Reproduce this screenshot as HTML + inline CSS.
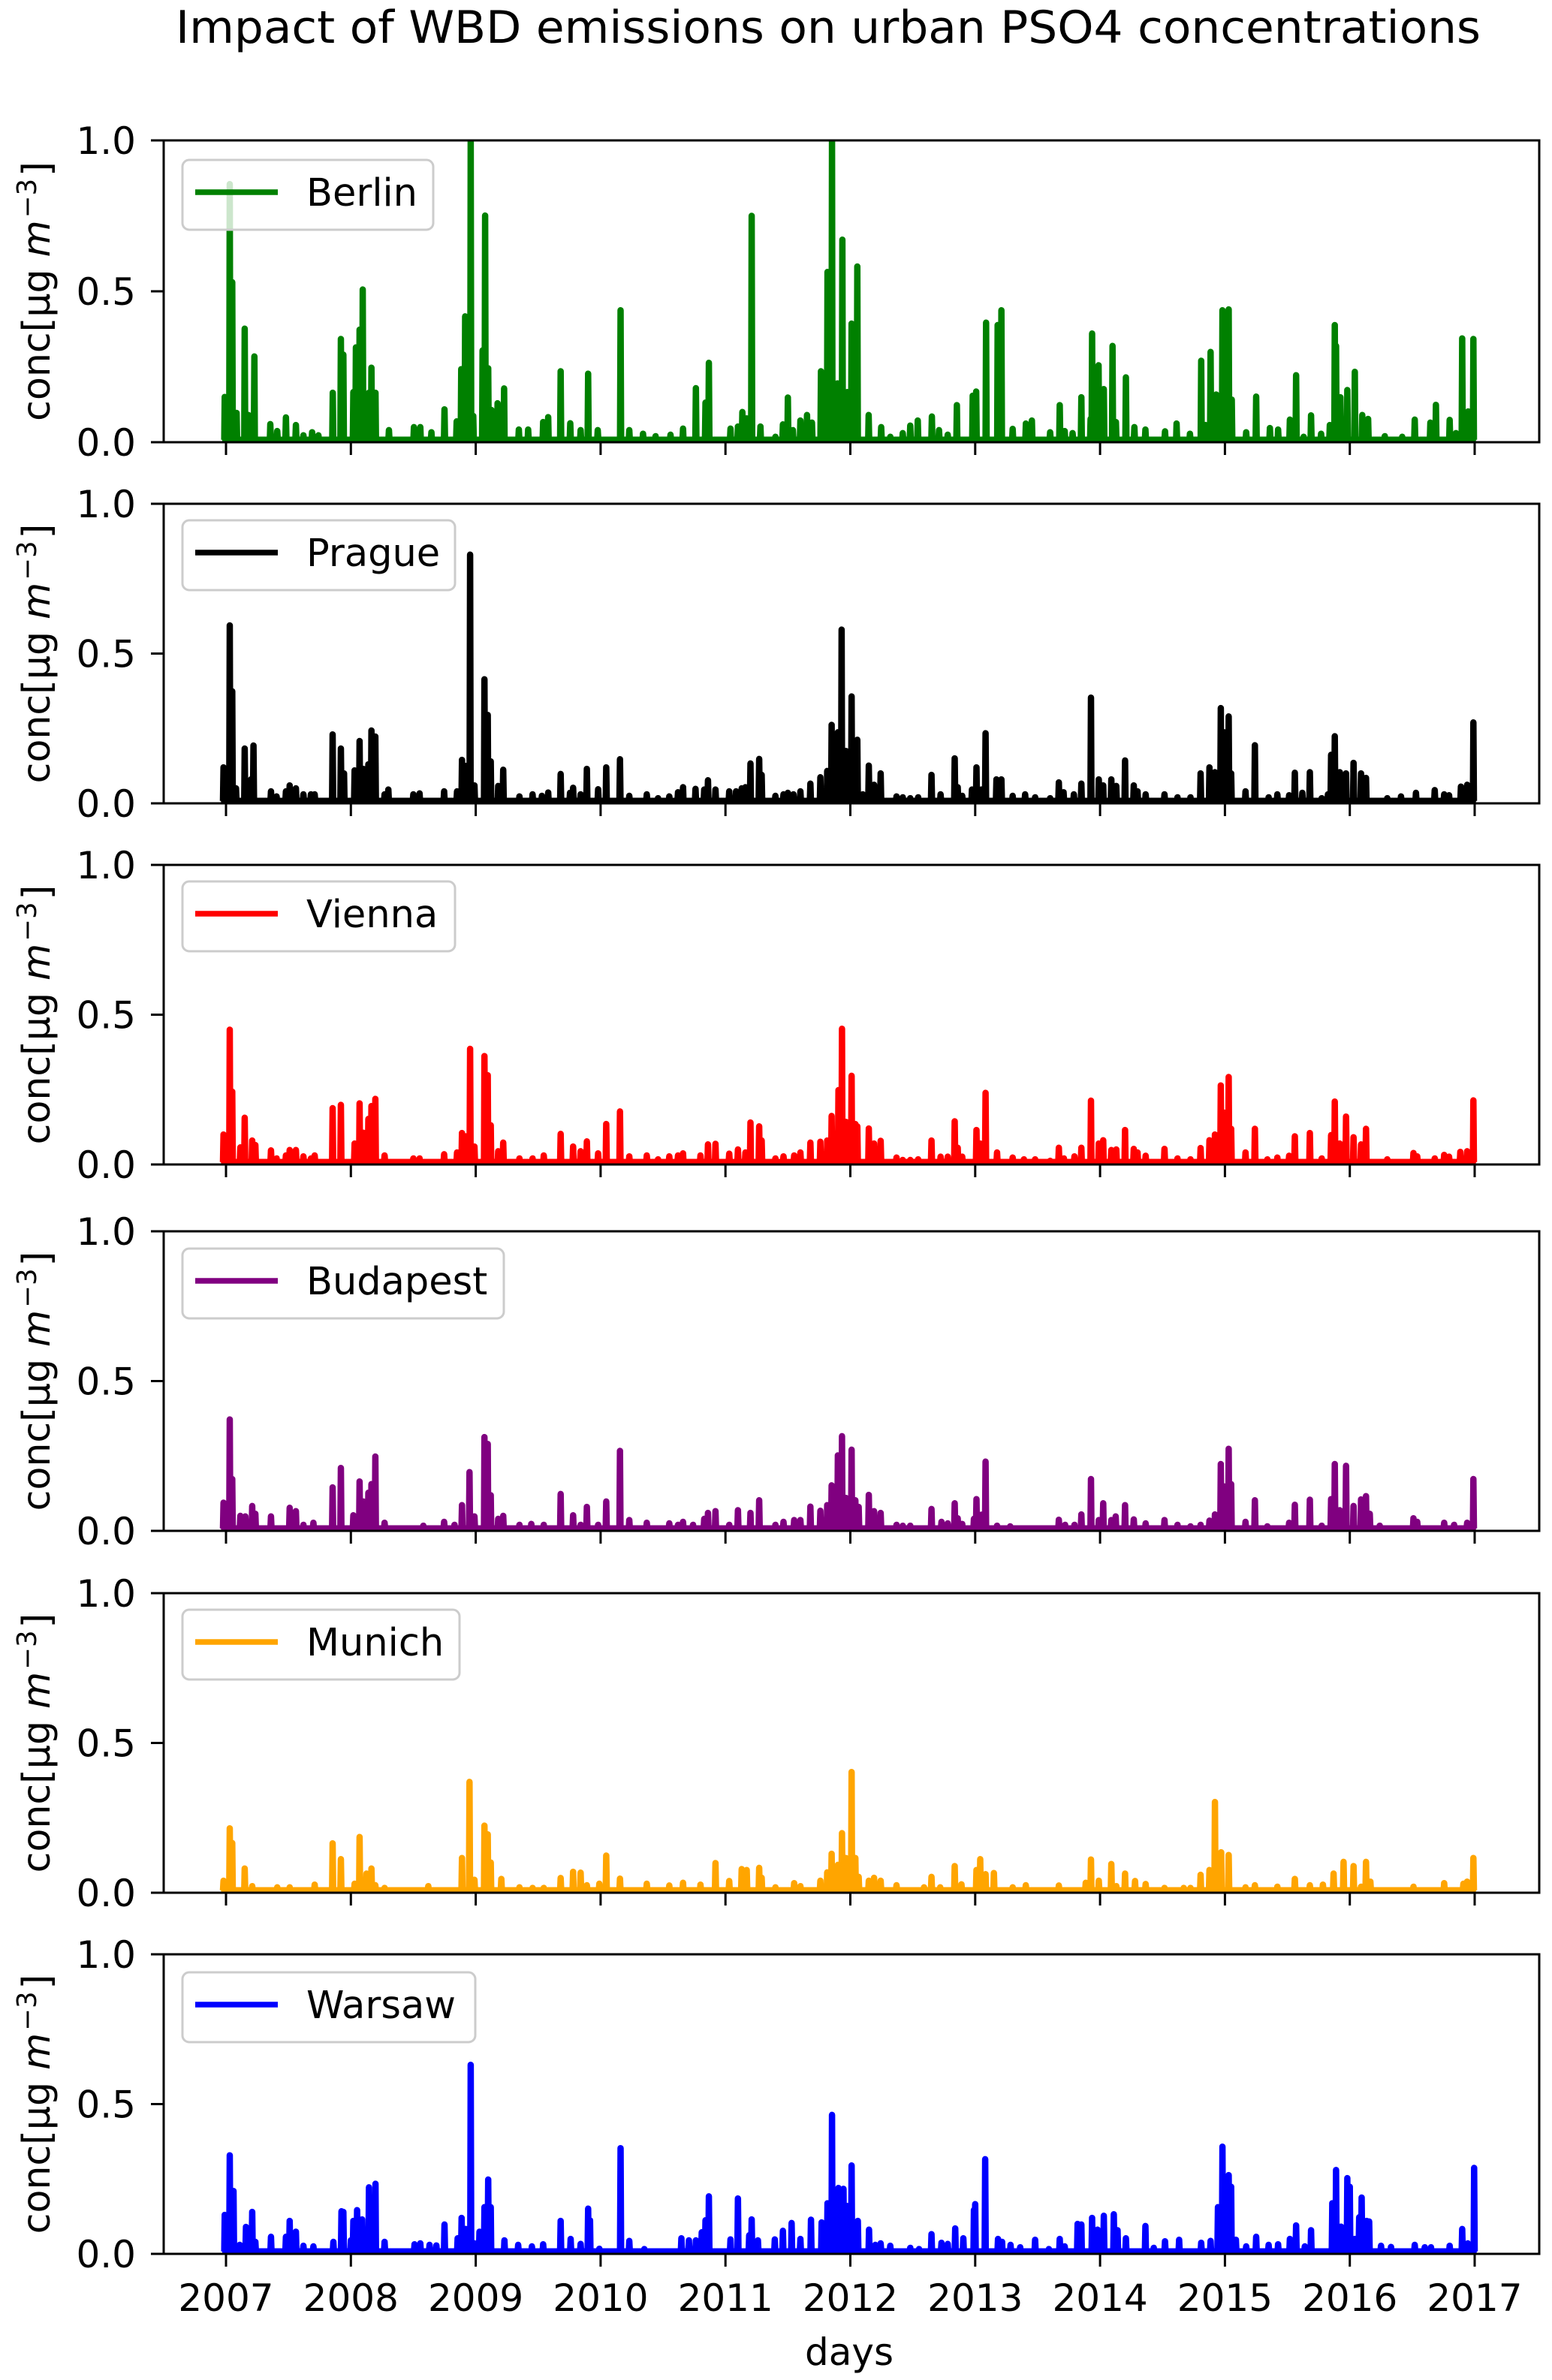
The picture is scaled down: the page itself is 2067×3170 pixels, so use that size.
<!DOCTYPE html>
<html lang="en">
<head>
<meta charset="utf-8">
<title>Impact of WBD emissions on urban PSO4 concentrations</title>
<style>
html,body{margin:0;padding:0;background:#fff;}
svg{display:block;}
text{font-family:"DejaVu Sans","Liberation Sans",sans-serif;fill:#000;}
</style>
</head>
<body>
<svg id="figure" xmlns="http://www.w3.org/2000/svg" width="2067" height="3170" viewBox="0 0 2067 3170">
<rect x="0" y="0" width="2067" height="3170" fill="#ffffff"/>
<text id="title" x="1103" y="57" text-anchor="middle" font-size="59.4" textLength="1738" lengthAdjust="spacingAndGlyphs">Impact of WBD emissions on urban PSO4 concentrations</text>
<text id="xlabel" x="1131" y="3150" text-anchor="middle" font-size="50">days</text>
</svg>
<script>
const yearTicks = [2007,2008,2009,2010,2011,2012,2013,2014,2015,2016,2017];
const valueTicks = [0.0,0.5,1.0];
const valueTickLabels = ["0.0","0.5","1.0"];
const cityNames = ["Berlin","Prague","Vienna","Budapest","Munich","Warsaw"];
const cityColors = ["#008000","#000000","#ff0000","#800080","#ffa500","#0000ff"];

const berlinYears = [2006.99,2007.03,2007.05,2007.085,2007.15,2007.18,2007.227,2007.355,2007.41,2007.48,2007.56,2007.62,2007.69,2007.74,2007.855,2007.92,2007.94,
2008.02,2008.04,2008.07,2008.095,2008.145,2008.165,2008.197,2008.305,2008.505,2008.556,2008.645,2008.75,2008.847,2008.884,2008.915,2008.96,2008.98,
2009.055,2009.075,2009.10,2009.125,2009.175,2009.227,2009.345,2009.42,2009.54,2009.58,2009.68,2009.757,2009.84,2009.90,2009.977,
2010.16,2010.23,2010.34,2010.44,2010.56,2010.66,2010.763,2010.84,2010.867,
2011.04,2011.10,2011.135,2011.17,2011.21,2011.28,2011.40,2011.46,2011.50,2011.54,2011.60,2011.653,2011.693,2011.765,2011.817,2011.853,2011.897,2011.936,2011.976,
2012.01,2012.056,2012.147,2012.247,2012.32,2012.42,2012.48,2012.54,2012.653,2012.71,2012.78,2012.853,2012.98,
2013.008,2013.087,2013.18,2013.21,2013.30,2013.406,2013.454,2013.60,2013.677,2013.717,2013.78,2013.85,2013.924,2013.936,2013.988,
2014.03,2014.10,2014.127,2014.207,2014.275,2014.363,2014.52,2014.613,2014.72,2014.81,2014.845,2014.885,2014.93,2014.98,
2015.03,2015.055,2015.17,2015.25,2015.36,2015.426,2015.52,2015.57,2015.63,2015.69,2015.77,2015.84,2015.88,2015.89,2015.925,2015.98,
2016.04,2016.10,2016.147,2016.28,2016.42,2016.52,2016.645,2016.69,2016.80,2016.85,2016.90,2016.948,2016.99];
const berlinValues = [0.15,0.855,0.53,0.097,0.376,0.09,0.284,0.06,0.037,0.082,0.057,0.023,0.033,0.023,0.164,0.342,0.29,
0.166,0.314,0.373,0.506,0.164,0.247,0.164,0.04,0.05,0.05,0.033,0.109,0.069,0.242,0.417,1.0,0.087,
0.304,0.751,0.245,0.107,0.129,0.178,0.042,0.042,0.067,0.083,0.235,0.063,0.04,0.227,0.04,
0.437,0.04,0.028,0.02,0.025,0.045,0.179,0.131,0.263,
0.045,0.052,0.1,0.079,0.75,0.052,0.018,0.059,0.148,0.04,0.072,0.09,0.065,0.235,0.564,1.0,0.195,0.671,0.166,
0.393,0.582,0.09,0.05,0.018,0.03,0.055,0.072,0.085,0.04,0.025,0.123,0.154,
0.168,0.396,0.388,0.437,0.044,0.062,0.072,0.033,0.123,0.037,0.03,0.149,0.077,0.36,0.255,
0.176,0.319,0.067,0.215,0.05,0.042,0.036,0.062,0.028,0.27,0.057,0.299,0.158,0.437,
0.44,0.141,0.033,0.151,0.047,0.042,0.075,0.222,0.018,0.089,0.028,0.057,0.388,0.319,0.149,0.173,
0.233,0.09,0.077,0.02,0.018,0.075,0.065,0.124,0.074,0.03,0.344,0.102,0.342];

const pragueYears = [2006.98,2007.0,2007.03,2007.05,2007.08,2007.15,2007.20,2007.22,2007.36,2007.405,2007.48,2007.51,2007.56,2007.62,2007.68,2007.71,2007.854,2007.92,2007.945,
2008.03,2008.07,2008.10,2008.14,2008.165,2008.196,2008.27,2008.30,2008.50,2008.55,2008.747,2008.85,2008.89,2008.92,2008.955,2008.99,
2009.07,2009.096,2009.12,2009.18,2009.22,2009.35,2009.455,2009.53,2009.58,2009.68,2009.755,2009.78,2009.84,2009.89,2009.98,
2010.045,2010.155,2010.23,2010.37,2010.46,2010.55,2010.62,2010.66,2010.76,2010.83,2010.86,2010.92,
2011.03,2011.085,2011.13,2011.16,2011.20,2011.27,2011.29,2011.40,2011.465,2011.50,2011.545,2011.60,2011.68,2011.76,2011.815,2011.85,2011.90,2011.93,2011.965,
2012.01,2012.056,2012.10,2012.148,2012.19,2012.243,2012.37,2012.42,2012.48,2012.543,2012.65,2012.723,2012.836,2012.86,2012.896,2012.974,
2013.01,2013.05,2013.083,2013.17,2013.21,2013.30,2013.40,2013.48,2013.60,2013.67,2013.708,2013.79,2013.85,2013.927,2013.99,
2014.025,2014.09,2014.13,2014.20,2014.27,2014.30,2014.365,2014.516,2014.62,2014.724,2014.805,2014.876,2014.92,2014.967,2014.995,
2015.03,2015.05,2015.165,2015.24,2015.35,2015.42,2015.514,2015.56,2015.62,2015.68,2015.775,2015.825,2015.85,2015.88,2015.92,2015.97,
2016.03,2016.09,2016.13,2016.30,2016.41,2016.53,2016.68,2016.756,2016.795,2016.89,2016.94,2016.99];
const pragueValues = [0.12,0.1,0.594,0.374,0.05,0.183,0.08,0.193,0.04,0.023,0.04,0.06,0.05,0.03,0.03,0.03,0.23,0.183,0.1,
0.11,0.208,0.115,0.13,0.243,0.223,0.03,0.046,0.03,0.033,0.04,0.04,0.145,0.125,0.83,0.06,
0.414,0.295,0.14,0.058,0.112,0.023,0.03,0.025,0.036,0.098,0.035,0.052,0.03,0.115,0.047,
0.12,0.147,0.025,0.03,0.017,0.023,0.037,0.054,0.048,0.046,0.077,0.046,
0.04,0.04,0.05,0.054,0.133,0.148,0.095,0.025,0.03,0.035,0.03,0.04,0.066,0.087,0.108,0.262,0.237,0.58,0.175,
0.357,0.212,0.03,0.126,0.062,0.1,0.023,0.02,0.017,0.02,0.095,0.03,0.15,0.054,0.025,0.046,
0.12,0.046,0.234,0.08,0.08,0.025,0.03,0.02,0.017,0.07,0.037,0.03,0.066,0.353,0.08,
0.06,0.08,0.058,0.143,0.06,0.04,0.03,0.03,0.02,0.02,0.1,0.12,0.104,0.318,0.237,
0.29,0.1,0.04,0.194,0.02,0.03,0.027,0.102,0.035,0.104,0.017,0.03,0.162,0.224,0.104,0.1,
0.135,0.1,0.085,0.017,0.023,0.035,0.044,0.03,0.027,0.056,0.062,0.27];

const viennaYears = [2006.98,2007.03,2007.05,2007.115,2007.15,2007.21,2007.235,2007.36,2007.405,2007.48,2007.51,2007.56,2007.62,2007.68,2007.71,2007.854,2007.92,
2008.03,2008.07,2008.10,2008.14,2008.165,2008.196,2008.27,2008.50,2008.55,2008.747,2008.85,2008.89,2008.92,2008.955,2008.99,
2009.07,2009.096,2009.12,2009.18,2009.22,2009.35,2009.455,2009.545,2009.68,2009.78,2009.84,2009.89,2009.98,
2010.045,2010.155,2010.23,2010.37,2010.46,2010.55,2010.62,2010.66,2010.80,2010.86,2010.92,
2011.03,2011.10,2011.16,2011.20,2011.27,2011.29,2011.40,2011.465,2011.55,2011.60,2011.68,2011.76,2011.815,2011.85,2011.905,2011.933,2011.965,
2012.01,2012.04,2012.056,2012.148,2012.19,2012.243,2012.37,2012.42,2012.48,2012.543,2012.65,2012.723,2012.78,2012.836,2012.86,2012.896,
2013.01,2013.04,2013.083,2013.175,2013.30,2013.39,2013.48,2013.60,2013.67,2013.71,2013.795,2013.85,2013.927,2013.99,
2014.025,2014.09,2014.13,2014.20,2014.27,2014.30,2014.365,2014.516,2014.62,2014.724,2014.805,2014.876,2014.92,2014.967,2014.995,
2015.03,2015.05,2015.165,2015.24,2015.34,2015.42,2015.514,2015.56,2015.68,2015.775,2015.85,2015.88,2015.92,2015.97,
2016.03,2016.09,2016.13,2016.30,2016.51,2016.54,2016.68,2016.756,2016.795,2016.885,2016.94,2016.99];
const viennaValues = [0.1,0.45,0.243,0.057,0.156,0.08,0.065,0.047,0.02,0.03,0.048,0.048,0.027,0.02,0.03,0.188,0.199,
0.07,0.204,0.106,0.152,0.195,0.219,0.03,0.02,0.02,0.034,0.04,0.105,0.094,0.386,0.06,
0.362,0.298,0.131,0.044,0.073,0.02,0.02,0.03,0.102,0.06,0.044,0.077,0.037,
0.135,0.177,0.027,0.03,0.017,0.027,0.03,0.037,0.03,0.067,0.069,
0.036,0.05,0.04,0.14,0.127,0.08,0.02,0.027,0.03,0.04,0.073,0.076,0.08,0.162,0.248,0.453,0.142,
0.296,0.135,0.127,0.12,0.07,0.079,0.023,0.015,0.015,0.017,0.08,0.026,0.026,0.144,0.056,0.026,
0.115,0.07,0.239,0.04,0.023,0.017,0.017,0.012,0.056,0.02,0.027,0.056,0.213,0.07,
0.081,0.048,0.05,0.115,0.052,0.04,0.029,0.052,0.02,0.017,0.055,0.081,0.1,0.264,0.173,
0.292,0.119,0.04,0.119,0.017,0.023,0.029,0.094,0.105,0.02,0.098,0.21,0.07,0.16,
0.091,0.067,0.119,0.017,0.038,0.027,0.02,0.032,0.026,0.042,0.044,0.214];

const budapestYears = [2006.98,2007.03,2007.05,2007.115,2007.155,2007.21,2007.235,2007.36,2007.51,2007.56,2007.62,2007.70,2007.854,2007.92,
2008.02,2008.07,2008.10,2008.14,2008.165,2008.196,2008.27,2008.58,2008.747,2008.83,2008.89,2008.95,2008.99,
2009.07,2009.096,2009.12,2009.18,2009.22,2009.35,2009.445,2009.545,2009.68,2009.78,2009.84,2009.89,2009.98,
2010.045,2010.155,2010.23,2010.37,2010.55,2010.62,2010.66,2010.74,2010.83,2010.86,2010.92,
2011.03,2011.10,2011.20,2011.27,2011.40,2011.465,2011.55,2011.60,2011.68,2011.76,2011.815,2011.85,2011.90,2011.933,2011.965,
2012.01,2012.04,2012.067,2012.148,2012.19,2012.243,2012.37,2012.42,2012.48,2012.65,2012.73,2012.78,2012.836,2012.86,2012.896,2012.99,
2013.01,2013.05,2013.083,2013.175,2013.28,2013.67,2013.72,2013.795,2013.85,2013.927,2013.99,
2014.025,2014.09,2014.125,2014.20,2014.27,2014.365,2014.516,2014.62,2014.724,2014.805,2014.876,2014.92,2014.967,2014.995,
2015.03,2015.05,2015.165,2015.24,2015.34,2015.514,2015.56,2015.68,2015.775,2015.85,2015.88,2015.92,2015.97,
2016.03,2016.09,2016.13,2016.16,2016.24,2016.51,2016.54,2016.756,2016.835,2016.94,2016.99];
const budapestValues = [0.094,0.372,0.173,0.05,0.048,0.083,0.057,0.048,0.077,0.066,0.02,0.027,0.145,0.21,
0.052,0.165,0.098,0.127,0.156,0.248,0.027,0.017,0.03,0.02,0.086,0.196,0.048,
0.313,0.29,0.119,0.04,0.05,0.02,0.023,0.02,0.123,0.052,0.02,0.08,0.02,
0.098,0.267,0.036,0.027,0.025,0.02,0.03,0.02,0.04,0.06,0.066,
0.02,0.069,0.06,0.102,0.02,0.03,0.036,0.036,0.081,0.067,0.086,0.152,0.252,0.316,0.11,
0.271,0.102,0.08,0.12,0.066,0.06,0.02,0.017,0.017,0.073,0.03,0.025,0.092,0.042,0.023,0.04,
0.106,0.054,0.231,0.017,0.015,0.037,0.02,0.02,0.055,0.173,0.036,
0.092,0.036,0.048,0.086,0.038,0.025,0.036,0.02,0.015,0.02,0.034,0.055,0.223,0.148,
0.274,0.156,0.03,0.102,0.015,0.027,0.087,0.104,0.017,0.106,0.223,0.069,0.217,
0.083,0.105,0.116,0.057,0.017,0.042,0.03,0.027,0.02,0.027,0.173];

const munichYears = [2006.98,2007.03,2007.05,2007.15,2007.21,2007.41,2007.51,2007.71,2007.854,2007.92,
2008.03,2008.07,2008.125,2008.165,2008.196,2008.27,2008.62,2008.89,2008.95,2008.99,
2009.07,2009.096,2009.12,2009.205,2009.35,2009.455,2009.545,2009.68,2009.78,2009.84,2009.89,2009.99,
2010.045,2010.155,2010.37,2010.55,2010.66,2010.80,2010.92,
2011.03,2011.13,2011.17,2011.27,2011.29,2011.40,2011.55,2011.60,2011.76,2011.815,2011.85,2011.90,2011.933,2011.965,
2012.01,2012.04,2012.067,2012.148,2012.19,2012.243,2012.37,2012.59,2012.65,2012.72,2012.836,2012.89,
2013.01,2013.04,2013.083,2013.15,2013.30,2013.405,2013.67,2013.885,2013.927,2013.99,
2014.09,2014.13,2014.20,2014.28,2014.365,2014.516,2014.67,2014.724,2014.805,2014.876,2014.92,2014.97,
2015.03,2015.165,2015.24,2015.42,2015.56,2015.68,2015.785,2015.87,2015.95,
2016.03,2016.09,2016.13,2016.165,2016.51,2016.756,2016.91,2016.94,2016.99];
const munichValues = [0.04,0.215,0.166,0.081,0.022,0.018,0.018,0.027,0.165,0.112,
0.03,0.186,0.064,0.081,0.025,0.016,0.022,0.116,0.37,0.043,
0.224,0.195,0.101,0.046,0.018,0.016,0.016,0.049,0.07,0.067,0.025,0.03,
0.124,0.047,0.03,0.024,0.033,0.027,0.099,
0.039,0.079,0.076,0.083,0.05,0.018,0.032,0.022,0.04,0.068,0.13,0.093,0.199,0.116,
0.403,0.116,0.053,0.04,0.05,0.04,0.025,0.018,0.053,0.018,0.089,0.028,
0.076,0.112,0.062,0.066,0.018,0.025,0.024,0.033,0.111,0.04,
0.096,0.022,0.064,0.039,0.029,0.016,0.016,0.016,0.06,0.076,0.303,0.135,
0.126,0.018,0.025,0.02,0.046,0.025,0.027,0.064,0.103,
0.089,0.02,0.103,0.037,0.02,0.032,0.03,0.037,0.116];

const warsawYears = [2006.99,2007.03,2007.06,2007.11,2007.16,2007.21,2007.235,2007.36,2007.48,2007.51,2007.56,2007.62,2007.70,2007.86,2007.925,2007.94,
2008.0,2008.02,2008.05,2008.09,2008.145,2008.197,2008.27,2008.51,2008.556,2008.63,2008.685,2008.75,2008.855,2008.887,2008.92,2008.96,2008.99,
2009.03,2009.07,2009.10,2009.12,2009.23,2009.34,2009.45,2009.54,2009.68,2009.76,2009.84,2009.90,2009.915,2009.99,
2010.16,2010.23,2010.35,2010.647,2010.707,2010.763,2010.81,2010.84,2010.867,
2011.04,2011.10,2011.19,2011.21,2011.26,2011.395,2011.46,2011.53,2011.60,2011.685,2011.77,2011.817,2011.853,2011.905,2011.945,2011.975,
2012.01,2012.06,2012.15,2012.2,2012.243,2012.32,2012.48,2012.55,2012.65,2012.73,2012.78,2012.84,2012.905,2012.99,
2013.0,2013.08,2013.183,2013.215,2013.283,2013.36,2013.48,2013.59,2013.677,2013.717,2013.82,2013.85,2013.936,2013.98,
2014.03,2014.11,2014.14,2014.207,2014.363,2014.43,2014.52,2014.633,2014.81,2014.885,2014.944,2014.98,
2015.03,2015.05,2015.088,2015.17,2015.25,2015.35,2015.426,2015.52,2015.57,2015.64,2015.69,2015.86,2015.89,2015.93,2015.98,
2016.0,2016.04,2016.075,2016.095,2016.135,2016.155,2016.25,2016.33,2016.52,2016.60,2016.65,2016.80,2016.90,2016.945,2016.996];
const warsawValues = [0.13,0.329,0.21,0.03,0.09,0.14,0.04,0.057,0.057,0.11,0.074,0.027,0.025,0.04,0.142,0.14,
0.045,0.11,0.146,0.115,0.222,0.234,0.04,0.032,0.035,0.03,0.028,0.098,0.052,0.12,0.083,0.631,0.035,
0.074,0.156,0.248,0.156,0.045,0.03,0.025,0.032,0.11,0.05,0.033,0.151,0.112,0.017,
0.353,0.043,0.016,0.052,0.045,0.045,0.072,0.112,0.192,
0.048,0.185,0.062,0.115,0.045,0.048,0.077,0.103,0.05,0.114,0.105,0.169,0.464,0.22,0.217,0.16,
0.295,0.11,0.081,0.03,0.035,0.027,0.02,0.016,0.066,0.037,0.033,0.085,0.052,0.146,
0.166,0.316,0.05,0.04,0.03,0.022,0.047,0.016,0.05,0.025,0.1,0.098,0.12,0.081,
0.127,0.132,0.079,0.052,0.093,0.02,0.042,0.047,0.037,0.043,0.156,0.358,
0.263,0.224,0.047,0.025,0.057,0.03,0.032,0.05,0.095,0.025,0.079,0.169,0.28,0.091,0.253,
0.224,0.05,0.122,0.188,0.11,0.108,0.027,0.023,0.03,0.022,0.022,0.027,0.083,0.035,0.287];

const seriesYears = [berlinYears,pragueYears,viennaYears,budapestYears,munichYears,warsawYears];
const seriesValues = [berlinValues,pragueValues,viennaValues,budapestValues,munichValues,warsawValues];
const baselineValue = 0.008;

const SVG_NS = "http://www.w3.org/2000/svg";
const svg = document.getElementById("figure");
const axesLeft = 218, axesRight = 2050;
const panelTop = [187,671,1152,1640,2122,2603];
const panelBottom = [589,1070,1551,2039,2521,3002];
const legendTop = [213,693,1174,1663,2144,2627];
const legendRight = [577,606,606,671,612,633];

function xScale(year){ return 301 + (year-2007)*166.3; }
function yScale(i,value){ return panelBottom[i] - value*(panelBottom[i]-panelTop[i]); }
function make(tag,attrs,parent){
  const el = document.createElementNS(SVG_NS,tag);
  for(const k in attrs){ el.setAttribute(k,attrs[k]); }
  parent.appendChild(el);
  return el;
}
function linePath(i){
  const ys = seriesYears[i], vs = seriesValues[i];
  const n = Math.min(ys.length,vs.length);
  const order = [];
  for(let k=0;k<n;k++){ order.push(k); }
  order.sort((a,b)=>ys[a]-ys[b]);
  const halfDay = 1.5/365;
  const pts = [];
  pts.push([2006.975,baselineValue]);
  order.forEach(k=>{
    pts.push([ys[k]-halfDay,baselineValue]);
    pts.push([ys[k],vs[k]]);
    pts.push([ys[k]+halfDay,baselineValue]);
  });
  pts.push([2017.005,baselineValue]);
  return pts.map((p,j)=>(j?"L":"M")+xScale(p[0]).toFixed(1)+" "+yScale(i,p[1]).toFixed(1)).join("");
}

const defs = make("defs",{},svg);
cityNames.forEach((city,i)=>{
  const slug = city.toLowerCase();
  const top = panelTop[i], bottom = panelBottom[i];
  const clip = make("clipPath",{id:"clip-"+i},defs);
  make("rect",{x:axesLeft,y:top,width:axesRight-axesLeft,height:bottom-top},clip);

  const g = make("g",{},svg);
  
  

  const line = make("path",{d:linePath(i),fill:"none",stroke:cityColors[i],"stroke-width":8.5,"stroke-linejoin":"round","stroke-linecap":"butt","clip-path":"url(#clip-"+i+")"},g);
  
  

  const frame = make("rect",{x:axesLeft,y:top,width:axesRight-axesLeft,height:bottom-top,fill:"none",stroke:"#000","stroke-width":3},g);
  
  

  yearTicks.forEach(year=>{
    const x = xScale(year);
    const tick = make("line",{x1:x,x2:x,y1:bottom,y2:bottom+17,stroke:"#000","stroke-width":3},g);
    
    
    if(i===cityNames.length-1){
      const label = make("text",{x:x,y:bottom+76,"text-anchor":"middle","font-size":50},g);
      
      
      label.textContent = String(year);
    }
  });

  valueTicks.forEach((value,k)=>{
    const y = yScale(i,value);
    const tick = make("line",{x1:axesLeft-17,x2:axesLeft,y1:y,y2:y,stroke:"#000","stroke-width":3},g);
    
    
    const label = make("text",{x:181,y:y+18,"text-anchor":"end","font-size":50},g);
    
    
    label.textContent = valueTickLabels[k];
  });

  const cy = (top+bottom)/2;
  const yl = make("text",{transform:"translate(66,"+cy+") rotate(-90)","text-anchor":"middle","font-size":50.5},g);
  
  
  yl.appendChild(document.createTextNode("conc[\u00b5g\u00a0"));
  const m = make("tspan",{"font-style":"italic"},yl);
  m.textContent = "m";
  const sup = make("tspan",{dy:-18,"font-size":35.5,dx:3},yl);
  sup.textContent = "\u22123";
  const close = make("tspan",{dy:18,dx:3},yl);
  close.textContent = "]";

  const lt = legendTop[i], lr = legendRight[i];
  const box = make("rect",{x:243,y:lt,width:lr-243,height:93,rx:9,ry:9,fill:"#ffffff","fill-opacity":0.8,stroke:"#cccccc","stroke-width":3},g);
  
  
  const key = make("line",{x1:260,x2:370,y1:lt+43,y2:lt+43,stroke:cityColors[i],"stroke-width":7.5},g);
  
  
  const legendText = make("text",{x:408,y:lt+61,"font-size":51},g);
  
  
  legendText.textContent = city;
});
</script>
</body>
</html>
